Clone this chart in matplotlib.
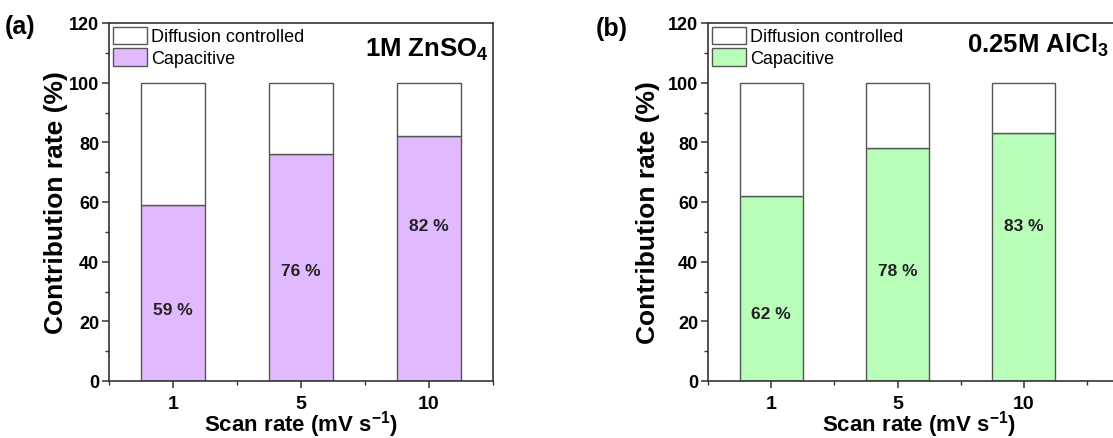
import numpy as np
import matplotlib
matplotlib.use('Agg')
from matplotlib import pyplot as plt
from matplotlib.patches import Patch

plt.rcParams['font.family'] = ['Liberation Sans', 'DejaVu Sans']
plt.rcParams['mathtext.fontset'] = 'custom'
plt.rcParams['mathtext.rm'] = 'Liberation Sans'
plt.rcParams['mathtext.bf'] = 'Liberation Sans:bold'

scan_rates = ['1', '5', '10']
cap_zn = [59, 76, 82]
cap_al = [62, 78, 83]

fill_zn = '#e1b9fe'
fill_al = '#b8fdb8'
edge = '#555555'

fig = plt.figure(figsize=(11.13, 4.39), dpi=100)
ax_a = fig.add_axes([109 / 1113, 57 / 439, 384 / 1113, 358 / 439])
ax_b = fig.add_axes([708 / 1113, 57 / 439, 422 / 1113, 358 / 439])


def draw_panel(ax, cap, color, xmax, label_y):
    x = np.arange(len(scan_rates))
    diff = [100 - c for c in cap]
    ax.bar(x, cap, width=0.5, color=color, edgecolor=edge, linewidth=1.0)
    ax.bar(x, diff, bottom=cap, width=0.5, color='white', edgecolor=edge, linewidth=1.0)
    for xi, c, ly in zip(x, cap, label_y):
        ax.text(xi, ly, f'{c} %', ha='center', va='center',
                fontsize=12.5, fontweight='bold', color='#222222')

    ax.set_xlim(-0.5, xmax)
    ax.set_ylim(0, 120)
    ax.set_xticks(x)
    ax.set_xticklabels(scan_rates)
    ax.set_xticks([-0.5, 0.5, 1.5, 2.5], minor=True)
    ax.set_yticks(np.arange(0, 121, 20))
    ax.set_yticks(np.arange(10, 120, 20), minor=True)
    ax.tick_params(axis='both', which='major', direction='out', length=5, width=1.1,
                   color='#333333')
    ax.tick_params(axis='both', which='minor', direction='out', length=3, width=1.0,
                   color='#333333')
    ax.tick_params(axis='x', labelsize=14, pad=5)
    ax.tick_params(axis='y', labelsize=13, pad=2)
    for lab in ax.get_xticklabels() + ax.get_yticklabels():
        lab.set_fontweight('bold')
    for sp in ax.spines.values():
        sp.set_linewidth(1.2)
        sp.set_color('#333333')

    ax.set_xlabel('Scan rate (mV s$^{\\mathbf{-1}}$)', fontsize=16, fontweight='bold', labelpad=-3)
    ax.set_ylabel('Contribution rate (%)', fontsize=19, fontweight='bold', labelpad=1)

    handles = [Patch(facecolor='white', edgecolor=edge, linewidth=1.0),
               Patch(facecolor=color, edgecolor=edge, linewidth=1.0)]
    ax.legend(handles, ['Diffusion controlled', 'Capacitive'], loc='upper left',
              frameon=False, fontsize=13, handlelength=1.9, handleheight=1.1,
              labelspacing=0.17, handletextpad=0.25, borderaxespad=0.15, borderpad=0.05)


draw_panel(ax_a, cap_zn, fill_zn, 2.5, [24, 37, 52])
draw_panel(ax_b, cap_al, fill_al, 2.84, [22.5, 37, 52])

# right-hand panel's y label sits a little lower
ax_b.yaxis.set_label_coords(-0.114, 0.472)

ax_a.text(0.99, 0.91, '1M ZnSO$_\\mathbf{4}$', transform=ax_a.transAxes, ha='right',
          va='baseline', fontsize=18.5, fontweight='bold')
ax_b.text((967 - 708) / 422, 0.92, '0.25M AlCl$_\\mathbf{3}$', transform=ax_b.transAxes,
          ha='left', va='baseline', fontsize=18.5, fontweight='bold')

fig.text(5 / 1113, 1 - 27 / 439, '(a)', fontsize=18, fontweight='bold', va='center')
fig.text(596 / 1113, 1 - 29 / 439, '(b)', fontsize=18, fontweight='bold', va='center')

fig.savefig('out.png', dpi=100)
